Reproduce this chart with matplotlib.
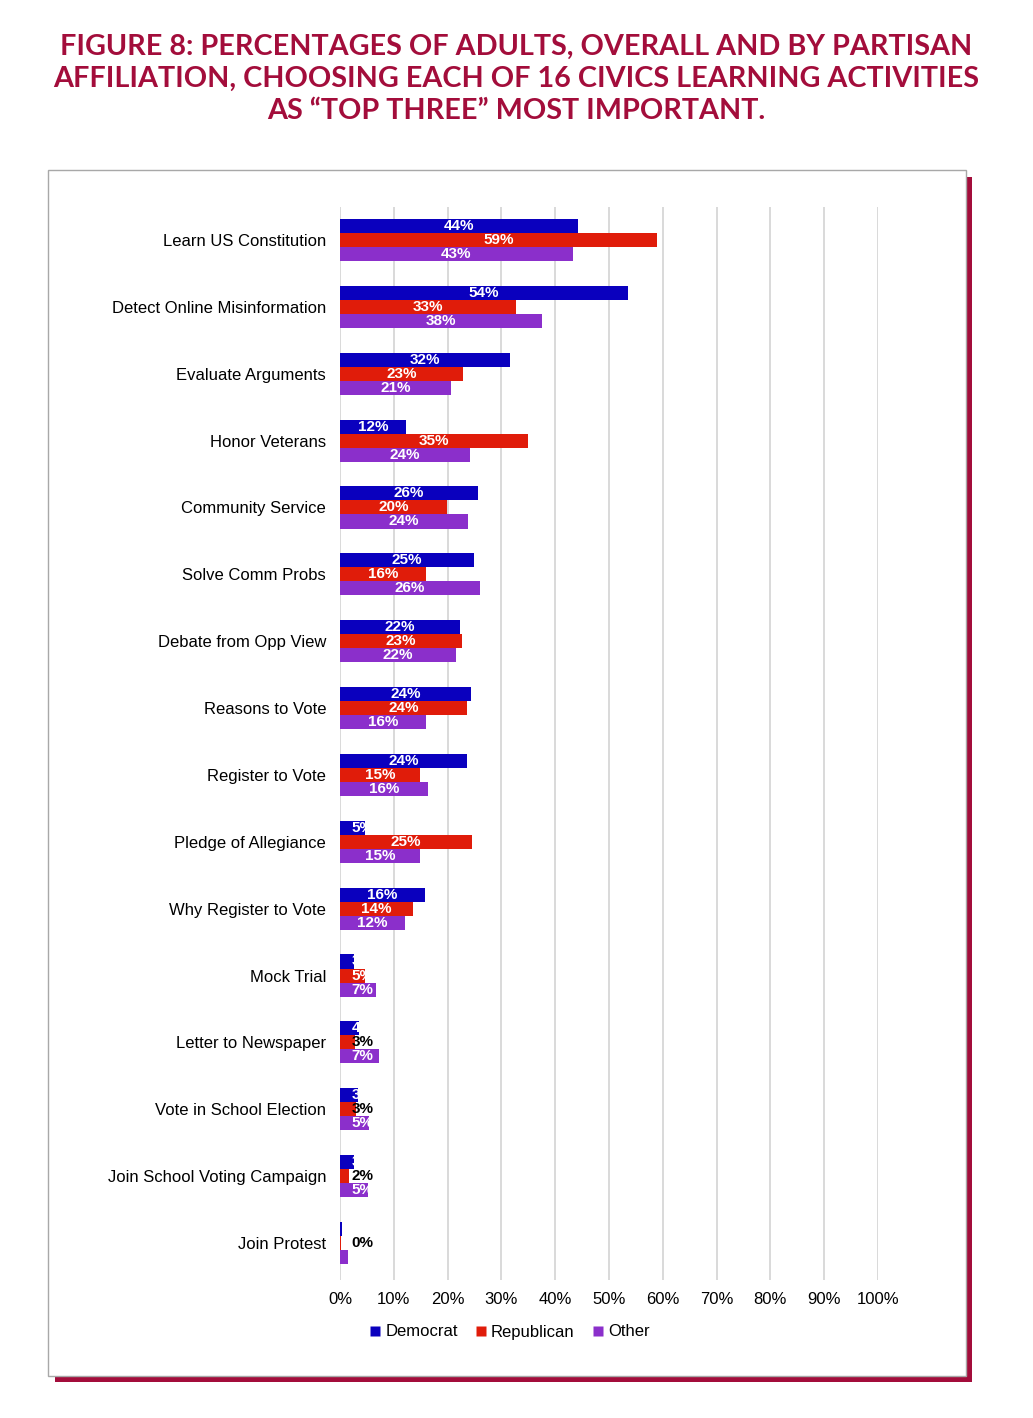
import matplotlib
matplotlib.use("Agg")
import matplotlib.pyplot as plt
from matplotlib.patches import Rectangle
from matplotlib.lines import Line2D
import numpy as np

categories = ["Learn US Constitution", "Detect Online Misinformation", "Evaluate Arguments",
              "Honor Veterans", "Community Service", "Solve Comm Probs", "Debate from Opp View",
              "Reasons to Vote", "Register to Vote", "Pledge of Allegiance", "Why Register to Vote",
              "Mock Trial", "Letter to Newspaper", "Vote in School Election",
              "Join School Voting Campaign", "Join Protest"]
democrat = [44.2, 53.6, 31.6, 12.3, 25.7, 24.9, 22.3, 24.3, 23.6, 4.6, 15.8, 2.6, 3.6, 3.3, 2.6, 0.4]
republican = [58.9, 32.7, 22.9, 34.9, 19.9, 16.0, 22.6, 23.6, 14.9, 24.6, 13.6, 4.6, 2.8, 3.0, 1.6, 0.2]
other = [43.3, 37.6, 20.6, 24.2, 23.8, 26.0, 21.6, 16.0, 16.4, 14.9, 12.1, 6.6, 7.3, 5.4, 5.2, 1.4]
series_names = ["Democrat", "Republican", "Other"]
xticks = [0, 10, 20, 30, 40, 50, 60, 70, 80, 90, 100]
title = ("FIGURE 8: PERCENTAGES OF ADULTS, OVERALL AND BY PARTISAN\n"
         "AFFILIATION, CHOOSING EACH OF 16 CIVICS LEARNING ACTIVITIES\n"
         "AS \u201cTOP THREE\u201d MOST IMPORTANT.")

colors = ["#0A00BE", "#E01C0A", "#8B2FCB"]
crimson = "#A30D3B"
W, H = 1033, 1418

fig = plt.figure(figsize=(W / 100, H / 100), dpi=100)
fig.patch.set_facecolor("white")

def fx(x):
    return x / W

def fy(y):
    return 1 - y / H

# frame with shadow
fig.patches.append(Rectangle((fx(55), fy(1382)), fx(972) - fx(55), fy(177) - fy(1382),
                             transform=fig.transFigure, facecolor=crimson, edgecolor="none", zorder=-10))
fig.patches.append(Rectangle((fx(48), fy(1376)), fx(966) - fx(48), fy(170) - fy(1376),
                             transform=fig.transFigure, facecolor="white", edgecolor="#A8A8A8",
                             linewidth=1.0, zorder=-9))

fig.text(0.5, fy(79), title, ha="center", va="center", color=crimson,
         fontfamily="Lato", fontweight="bold", fontsize=20.7, linespacing=1.3)

ax = fig.add_axes([fx(340), fy(1280), fx(878) - fx(340), fy(207) - fy(1280)])
ax.set_facecolor("none")
n = len(categories)
y = np.arange(n)
bh = 0.21
offsets = [-bh, 0, bh]
data = [democrat, republican, other]

for s, (vals, off, col) in enumerate(zip(data, offsets, colors)):
    bars = ax.barh(y + off, vals, height=bh, color=col, edgecolor="none", zorder=3)
    for i, (b, v) in enumerate(zip(bars, vals)):
        lab = f"{round(v)}%"
        yc = y[i] + off
        if s == 1 and v < 3.5:
            ax.text(2.2, yc, lab, ha="left", va="center", color="black", fontsize=11,
                    fontweight="bold", fontfamily="Liberation Sans", zorder=5)
            continue
        if len(lab) <= 2:
            t = ax.text(2.2, yc, lab, ha="left", va="center", color="white", fontsize=11,
                        fontweight="bold", fontfamily="Liberation Sans", zorder=5)
        else:
            t = ax.text(v / 2, yc, lab, ha="center", va="center", color="white", fontsize=11,
                        fontweight="bold", fontfamily="Liberation Sans", zorder=5)
        t.set_clip_on(True)
        t.set_clip_path(b)

ax.set_xlim(0, 100)
ax.set_ylim(n - 1 + 0.553, -0.493)
ax.set_xticks(xticks)
ax.set_xticklabels([f"{t}%" for t in xticks], fontfamily="Liberation Sans", fontsize=12)
ax.set_yticks(y)
ax.set_yticklabels(categories, fontfamily="Liberation Sans", fontsize=12)
ax.tick_params(axis="both", length=0)
ax.tick_params(axis="y", pad=10)
ax.tick_params(axis="x", pad=9)
for sp in ax.spines.values():
    sp.set_visible(False)
ax.grid(axis="x", color="#D9D9D9", linewidth=1.4, zorder=0)
ax.set_axisbelow(True)

handles = [Line2D([], [], marker="s", linestyle="none", markersize=7.5, markerfacecolor=c,
                  markeredgecolor="none") for c in colors]
fig.legend(handles, series_names, loc="center", bbox_to_anchor=(fx(510), fy(1332)), ncol=3,
           frameon=False, prop={"family": "Liberation Sans", "size": 12},
           handlelength=0.6, handletextpad=0.3, columnspacing=1.1)

fig.savefig("out.png", dpi=100)
